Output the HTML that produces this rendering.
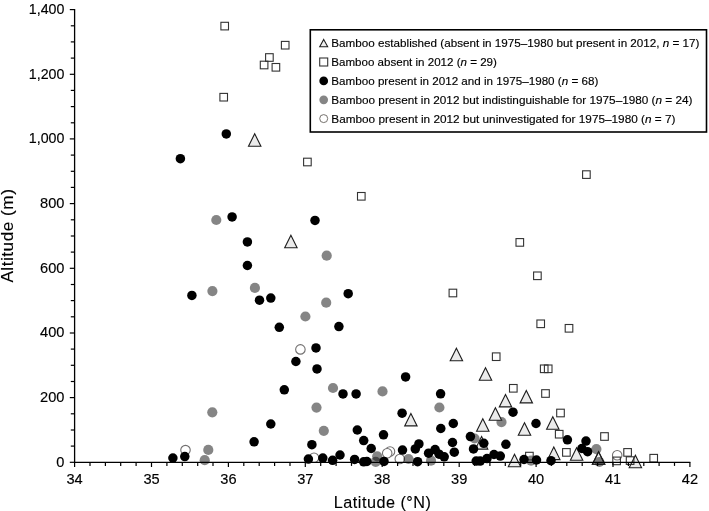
<!DOCTYPE html>
<html><head><meta charset="utf-8"><title>Bamboo altitude vs latitude</title>
<style>
html,body{margin:0;padding:0;background:#fff;}
body{width:709px;height:511px;overflow:hidden;}
svg{display:block;}
text{font-family:"Liberation Sans",sans-serif;fill:#000;stroke:#000;stroke-width:0.15px;}
.ax{stroke-width:0.12px;}
.tk{font-size:14.6px;}
.ax{font-size:16.2px;letter-spacing:0.5px;}
.lg{font-size:11.4px;}
</style></head><body>
<svg width="709" height="511" viewBox="0 0 709 511">
<rect width="709" height="511" fill="#fff"/>
<text class="tk" x="64.4" y="466.7" text-anchor="end" >0</text>
<text class="tk" x="64.4" y="402.0" text-anchor="end" >200</text>
<text class="tk" x="64.4" y="337.4" text-anchor="end" >400</text>
<text class="tk" x="64.4" y="272.7" text-anchor="end" >600</text>
<text class="tk" x="64.4" y="208.0" text-anchor="end" >800</text>
<text class="tk" x="64.4" y="143.3" text-anchor="end" textLength="35.6" lengthAdjust="spacingAndGlyphs">1,000</text>
<text class="tk" x="64.4" y="78.7" text-anchor="end" textLength="35.6" lengthAdjust="spacingAndGlyphs">1,200</text>
<text class="tk" x="64.4" y="14.0" text-anchor="end" textLength="35.6" lengthAdjust="spacingAndGlyphs">1,400</text>
<text class="tk" x="74.6" y="483.5" text-anchor="middle">34</text>
<text class="tk" x="151.5" y="483.5" text-anchor="middle">35</text>
<text class="tk" x="228.4" y="483.5" text-anchor="middle">36</text>
<text class="tk" x="305.3" y="483.5" text-anchor="middle">37</text>
<text class="tk" x="382.2" y="483.5" text-anchor="middle">38</text>
<text class="tk" x="459.2" y="483.5" text-anchor="middle">39</text>
<text class="tk" x="536.1" y="483.5" text-anchor="middle">40</text>
<text class="tk" x="613.0" y="483.5" text-anchor="middle">41</text>
<text class="tk" x="689.9" y="483.5" text-anchor="middle">42</text>
<text class="ax" x="333.8" y="507.7" textLength="97.6" lengthAdjust="spacingAndGlyphs">Latitude (°N)</text>
<text class="ax" transform="translate(13.2,282.6) rotate(-90)" textLength="94.0" lengthAdjust="spacingAndGlyphs">Altitude (m)</text>
<g>
<circle cx="185.5" cy="450.1" r="4.75" fill="#fff" stroke="#727070" stroke-width="1.1"/>
<circle cx="300.4" cy="349.4" r="4.75" fill="#fff" stroke="#727070" stroke-width="1.1"/>
<circle cx="314.0" cy="457.7" r="4.75" fill="#fff" stroke="#727070" stroke-width="1.1"/>
<circle cx="390.0" cy="451.5" r="4.75" fill="#fff" stroke="#727070" stroke-width="1.1"/>
<circle cx="387.2" cy="453.2" r="4.75" fill="#fff" stroke="#727070" stroke-width="1.1"/>
<circle cx="399.8" cy="459.0" r="4.75" fill="#fff" stroke="#727070" stroke-width="1.1"/>
<circle cx="617.2" cy="455.3" r="4.75" fill="#fff" stroke="#727070" stroke-width="1.1"/>
<circle cx="216.3" cy="220.0" r="5.1" fill="#000" fill-opacity="0.48"/>
<circle cx="326.7" cy="255.7" r="5.1" fill="#000" fill-opacity="0.48"/>
<circle cx="212.4" cy="291.1" r="5.1" fill="#000" fill-opacity="0.48"/>
<circle cx="254.9" cy="287.9" r="5.1" fill="#000" fill-opacity="0.48"/>
<circle cx="326.2" cy="302.7" r="5.1" fill="#000" fill-opacity="0.48"/>
<circle cx="305.4" cy="316.5" r="5.1" fill="#000" fill-opacity="0.48"/>
<circle cx="316.5" cy="407.6" r="5.1" fill="#000" fill-opacity="0.48"/>
<circle cx="212.3" cy="412.3" r="5.1" fill="#000" fill-opacity="0.48"/>
<circle cx="323.8" cy="430.8" r="5.1" fill="#000" fill-opacity="0.48"/>
<circle cx="208.3" cy="449.9" r="5.1" fill="#000" fill-opacity="0.48"/>
<circle cx="204.7" cy="460.2" r="5.1" fill="#000" fill-opacity="0.48"/>
<circle cx="333.0" cy="388.0" r="5.1" fill="#000" fill-opacity="0.48"/>
<circle cx="382.5" cy="391.4" r="5.1" fill="#000" fill-opacity="0.48"/>
<circle cx="439.4" cy="407.5" r="5.1" fill="#000" fill-opacity="0.48"/>
<circle cx="377.2" cy="456.3" r="5.1" fill="#000" fill-opacity="0.48"/>
<circle cx="375.7" cy="461.8" r="5.1" fill="#000" fill-opacity="0.48"/>
<circle cx="408.5" cy="459.0" r="5.1" fill="#000" fill-opacity="0.48"/>
<circle cx="431.0" cy="460.7" r="5.1" fill="#000" fill-opacity="0.48"/>
<circle cx="474.6" cy="438.5" r="5.1" fill="#000" fill-opacity="0.48"/>
<circle cx="501.5" cy="422.1" r="5.1" fill="#000" fill-opacity="0.48"/>
<circle cx="531.1" cy="460.7" r="5.1" fill="#000" fill-opacity="0.48"/>
<circle cx="596.4" cy="449.1" r="5.1" fill="#000" fill-opacity="0.48"/>
<polygon points="254.7,133.7 260.9,146.2 248.5,146.2" fill="#ebebeb" stroke="#1c1c1c" stroke-width="1.1" stroke-linejoin="miter"/>
<polygon points="290.9,235.2 297.1,247.7 284.7,247.7" fill="#ebebeb" stroke="#1c1c1c" stroke-width="1.1" stroke-linejoin="miter"/>
<polygon points="456.4,348.2 462.6,360.8 450.2,360.8" fill="#ebebeb" stroke="#1c1c1c" stroke-width="1.1" stroke-linejoin="miter"/>
<polygon points="485.5,367.8 491.7,380.2 479.3,380.2" fill="#ebebeb" stroke="#1c1c1c" stroke-width="1.1" stroke-linejoin="miter"/>
<polygon points="410.9,413.4 417.1,425.9 404.7,425.9" fill="#ebebeb" stroke="#1c1c1c" stroke-width="1.1" stroke-linejoin="miter"/>
<polygon points="505.5,394.4 511.7,406.9 499.3,406.9" fill="#ebebeb" stroke="#1c1c1c" stroke-width="1.1" stroke-linejoin="miter"/>
<polygon points="526.3,390.4 532.5,402.9 520.1,402.9" fill="#ebebeb" stroke="#1c1c1c" stroke-width="1.1" stroke-linejoin="miter"/>
<polygon points="495.4,407.8 501.6,420.2 489.2,420.2" fill="#ebebeb" stroke="#1c1c1c" stroke-width="1.1" stroke-linejoin="miter"/>
<polygon points="482.8,418.8 489.0,431.2 476.6,431.2" fill="#ebebeb" stroke="#1c1c1c" stroke-width="1.1" stroke-linejoin="miter"/>
<polygon points="524.5,422.8 530.7,435.2 518.3,435.2" fill="#ebebeb" stroke="#1c1c1c" stroke-width="1.1" stroke-linejoin="miter"/>
<polygon points="552.8,416.8 559.0,429.2 546.6,429.2" fill="#ebebeb" stroke="#1c1c1c" stroke-width="1.1" stroke-linejoin="miter"/>
<polygon points="481.6,436.6 487.8,449.1 475.4,449.1" fill="#ebebeb" stroke="#1c1c1c" stroke-width="1.1" stroke-linejoin="miter"/>
<polygon points="514.5,454.2 520.7,466.8 508.3,466.8" fill="#ebebeb" stroke="#1c1c1c" stroke-width="1.1" stroke-linejoin="miter"/>
<polygon points="553.8,447.1 560.0,459.6 547.6,459.6" fill="#ebebeb" stroke="#1c1c1c" stroke-width="1.1" stroke-linejoin="miter"/>
<polygon points="576.6,447.8 582.8,460.2 570.4,460.2" fill="#ebebeb" stroke="#1c1c1c" stroke-width="1.1" stroke-linejoin="miter"/>
<polygon points="598.6,451.8 604.8,464.2 592.4,464.2" fill="#ebebeb" stroke="#1c1c1c" stroke-width="1.1" stroke-linejoin="miter"/>
<polygon points="635.4,455.2 641.6,467.8 629.2,467.8" fill="#ebebeb" stroke="#1c1c1c" stroke-width="1.1" stroke-linejoin="miter"/>
<circle cx="599.4" cy="462.0" r="5.1" fill="#000" fill-opacity="0.48"/>
<polygon points="598.6,451.8 604.8,464.2 592.4,464.2" fill="none" stroke="#1c1c1c" stroke-width="1.1" stroke-linejoin="miter"/>
<rect x="220.9" y="22.3" width="7.6" height="7.6" fill="none" stroke="#333" stroke-width="1.1"/>
<rect x="281.4" y="41.4" width="7.6" height="7.6" fill="none" stroke="#333" stroke-width="1.1"/>
<rect x="265.6" y="53.7" width="7.6" height="7.6" fill="none" stroke="#333" stroke-width="1.1"/>
<rect x="260.3" y="61.2" width="7.6" height="7.6" fill="none" stroke="#333" stroke-width="1.1"/>
<rect x="272.1" y="63.5" width="7.6" height="7.6" fill="none" stroke="#333" stroke-width="1.1"/>
<rect x="219.9" y="93.4" width="7.6" height="7.6" fill="none" stroke="#333" stroke-width="1.1"/>
<rect x="303.6" y="158.2" width="7.6" height="7.6" fill="none" stroke="#333" stroke-width="1.1"/>
<rect x="357.5" y="192.5" width="7.6" height="7.6" fill="none" stroke="#333" stroke-width="1.1"/>
<rect x="582.6" y="170.8" width="7.6" height="7.6" fill="none" stroke="#333" stroke-width="1.1"/>
<rect x="516.0" y="238.6" width="7.6" height="7.6" fill="none" stroke="#333" stroke-width="1.1"/>
<rect x="533.6" y="272.0" width="7.6" height="7.6" fill="none" stroke="#333" stroke-width="1.1"/>
<rect x="449.1" y="289.2" width="7.6" height="7.6" fill="none" stroke="#333" stroke-width="1.1"/>
<rect x="536.9" y="320.0" width="7.6" height="7.6" fill="none" stroke="#333" stroke-width="1.1"/>
<rect x="565.2" y="324.5" width="7.6" height="7.6" fill="none" stroke="#333" stroke-width="1.1"/>
<rect x="492.4" y="352.9" width="7.6" height="7.6" fill="none" stroke="#333" stroke-width="1.1"/>
<rect x="540.4" y="365.0" width="7.6" height="7.6" fill="none" stroke="#333" stroke-width="1.1"/>
<rect x="544.4" y="365.0" width="7.6" height="7.6" fill="none" stroke="#333" stroke-width="1.1"/>
<rect x="509.5" y="384.5" width="7.6" height="7.6" fill="none" stroke="#333" stroke-width="1.1"/>
<rect x="541.7" y="389.7" width="7.6" height="7.6" fill="none" stroke="#333" stroke-width="1.1"/>
<rect x="556.7" y="409.2" width="7.6" height="7.6" fill="none" stroke="#333" stroke-width="1.1"/>
<rect x="555.4" y="430.4" width="7.6" height="7.6" fill="none" stroke="#333" stroke-width="1.1"/>
<rect x="600.7" y="432.7" width="7.6" height="7.6" fill="none" stroke="#333" stroke-width="1.1"/>
<rect x="525.6" y="452.3" width="7.6" height="7.6" fill="none" stroke="#333" stroke-width="1.1"/>
<rect x="562.6" y="448.6" width="7.6" height="7.6" fill="none" stroke="#333" stroke-width="1.1"/>
<rect x="612.8" y="457.1" width="7.6" height="7.6" fill="none" stroke="#333" stroke-width="1.1"/>
<rect x="623.8" y="448.6" width="7.6" height="7.6" fill="none" stroke="#333" stroke-width="1.1"/>
<rect x="626.3" y="456.8" width="7.6" height="7.6" fill="none" stroke="#333" stroke-width="1.1"/>
<rect x="649.9" y="454.4" width="7.6" height="7.6" fill="none" stroke="#333" stroke-width="1.1"/>
<circle cx="226.3" cy="133.9" r="4.75" fill="#000"/>
<circle cx="180.4" cy="158.7" r="4.75" fill="#000"/>
<circle cx="232.1" cy="216.9" r="4.75" fill="#000"/>
<circle cx="315.0" cy="220.4" r="4.75" fill="#000"/>
<circle cx="247.4" cy="241.9" r="4.75" fill="#000"/>
<circle cx="247.4" cy="265.5" r="4.75" fill="#000"/>
<circle cx="191.9" cy="295.4" r="4.75" fill="#000"/>
<circle cx="259.5" cy="300.2" r="4.75" fill="#000"/>
<circle cx="270.8" cy="298.1" r="4.75" fill="#000"/>
<circle cx="279.3" cy="327.3" r="4.75" fill="#000"/>
<circle cx="316.0" cy="347.9" r="4.75" fill="#000"/>
<circle cx="295.9" cy="361.5" r="4.75" fill="#000"/>
<circle cx="317.0" cy="368.9" r="4.75" fill="#000"/>
<circle cx="284.3" cy="389.8" r="4.75" fill="#000"/>
<circle cx="270.8" cy="424.0" r="4.75" fill="#000"/>
<circle cx="254.1" cy="441.8" r="4.75" fill="#000"/>
<circle cx="184.8" cy="456.6" r="4.75" fill="#000"/>
<circle cx="172.9" cy="458.0" r="4.75" fill="#000"/>
<circle cx="348.2" cy="293.7" r="4.75" fill="#000"/>
<circle cx="338.9" cy="326.6" r="4.75" fill="#000"/>
<circle cx="343.0" cy="393.9" r="4.75" fill="#000"/>
<circle cx="356.1" cy="393.9" r="4.75" fill="#000"/>
<circle cx="405.6" cy="376.9" r="4.75" fill="#000"/>
<circle cx="402.1" cy="413.2" r="4.75" fill="#000"/>
<circle cx="440.6" cy="393.8" r="4.75" fill="#000"/>
<circle cx="311.9" cy="444.7" r="4.75" fill="#000"/>
<circle cx="308.4" cy="459.1" r="4.75" fill="#000"/>
<circle cx="322.8" cy="458.1" r="4.75" fill="#000"/>
<circle cx="332.6" cy="460.3" r="4.75" fill="#000"/>
<circle cx="340.0" cy="455.0" r="4.75" fill="#000"/>
<circle cx="357.3" cy="430.0" r="4.75" fill="#000"/>
<circle cx="363.7" cy="440.6" r="4.75" fill="#000"/>
<circle cx="371.2" cy="448.5" r="4.75" fill="#000"/>
<circle cx="354.6" cy="459.4" r="4.75" fill="#000"/>
<circle cx="363.7" cy="461.8" r="4.75" fill="#000"/>
<circle cx="366.9" cy="461.5" r="4.75" fill="#000"/>
<circle cx="384.0" cy="461.4" r="4.75" fill="#000"/>
<circle cx="383.5" cy="434.8" r="4.75" fill="#000"/>
<circle cx="402.5" cy="450.1" r="4.75" fill="#000"/>
<circle cx="418.9" cy="443.9" r="4.75" fill="#000"/>
<circle cx="415.3" cy="448.9" r="4.75" fill="#000"/>
<circle cx="417.6" cy="461.7" r="4.75" fill="#000"/>
<circle cx="428.6" cy="453.2" r="4.75" fill="#000"/>
<circle cx="435.1" cy="449.6" r="4.75" fill="#000"/>
<circle cx="439.1" cy="454.2" r="4.75" fill="#000"/>
<circle cx="444.2" cy="456.8" r="4.75" fill="#000"/>
<circle cx="440.8" cy="428.5" r="4.75" fill="#000"/>
<circle cx="453.3" cy="423.5" r="4.75" fill="#000"/>
<circle cx="452.5" cy="442.5" r="4.75" fill="#000"/>
<circle cx="454.3" cy="452.2" r="4.75" fill="#000"/>
<circle cx="470.4" cy="436.6" r="4.75" fill="#000"/>
<circle cx="483.8" cy="443.3" r="4.75" fill="#000"/>
<circle cx="473.5" cy="448.9" r="4.75" fill="#000"/>
<circle cx="505.9" cy="444.3" r="4.75" fill="#000"/>
<circle cx="494.0" cy="454.5" r="4.75" fill="#000"/>
<circle cx="500.3" cy="456.1" r="4.75" fill="#000"/>
<circle cx="487.0" cy="458.6" r="4.75" fill="#000"/>
<circle cx="480.2" cy="461.1" r="4.75" fill="#000"/>
<circle cx="476.2" cy="461.1" r="4.75" fill="#000"/>
<circle cx="513.0" cy="412.2" r="4.75" fill="#000"/>
<circle cx="536.0" cy="423.5" r="4.75" fill="#000"/>
<circle cx="524.0" cy="459.5" r="4.75" fill="#000"/>
<circle cx="536.5" cy="460.0" r="4.75" fill="#000"/>
<circle cx="551.0" cy="460.7" r="4.75" fill="#000"/>
<circle cx="567.4" cy="439.8" r="4.75" fill="#000"/>
<circle cx="586.0" cy="441.1" r="4.75" fill="#000"/>
<circle cx="581.9" cy="448.5" r="4.75" fill="#000"/>
<circle cx="587.6" cy="451.7" r="4.75" fill="#000"/>
</g>
<g stroke="#000" stroke-width="1.2" fill="none">
<line x1="74.6" y1="9.1" x2="74.6" y2="463.0" stroke-width="1.3"/>
<line x1="73.89999999999999" y1="462.3" x2="690.4" y2="462.3" stroke-width="1.3"/>
<line x1="69.8" y1="462.3" x2="74.6" y2="462.3"/>
<line x1="70.8" y1="446.1" x2="74.6" y2="446.1"/>
<line x1="70.8" y1="430.0" x2="74.6" y2="430.0"/>
<line x1="70.8" y1="413.8" x2="74.6" y2="413.8"/>
<line x1="69.8" y1="397.6" x2="74.6" y2="397.6"/>
<line x1="70.8" y1="381.5" x2="74.6" y2="381.5"/>
<line x1="70.8" y1="365.3" x2="74.6" y2="365.3"/>
<line x1="70.8" y1="349.1" x2="74.6" y2="349.1"/>
<line x1="69.8" y1="333.0" x2="74.6" y2="333.0"/>
<line x1="70.8" y1="316.8" x2="74.6" y2="316.8"/>
<line x1="70.8" y1="300.6" x2="74.6" y2="300.6"/>
<line x1="70.8" y1="284.5" x2="74.6" y2="284.5"/>
<line x1="69.8" y1="268.3" x2="74.6" y2="268.3"/>
<line x1="70.8" y1="252.1" x2="74.6" y2="252.1"/>
<line x1="70.8" y1="236.0" x2="74.6" y2="236.0"/>
<line x1="70.8" y1="219.8" x2="74.6" y2="219.8"/>
<line x1="69.8" y1="203.6" x2="74.6" y2="203.6"/>
<line x1="70.8" y1="187.4" x2="74.6" y2="187.4"/>
<line x1="70.8" y1="171.3" x2="74.6" y2="171.3"/>
<line x1="70.8" y1="155.1" x2="74.6" y2="155.1"/>
<line x1="69.8" y1="138.9" x2="74.6" y2="138.9"/>
<line x1="70.8" y1="122.8" x2="74.6" y2="122.8"/>
<line x1="70.8" y1="106.6" x2="74.6" y2="106.6"/>
<line x1="70.8" y1="90.4" x2="74.6" y2="90.4"/>
<line x1="69.8" y1="74.3" x2="74.6" y2="74.3"/>
<line x1="70.8" y1="58.1" x2="74.6" y2="58.1"/>
<line x1="70.8" y1="41.9" x2="74.6" y2="41.9"/>
<line x1="70.8" y1="25.8" x2="74.6" y2="25.8"/>
<line x1="69.8" y1="9.6" x2="74.6" y2="9.6"/>
<line x1="74.6" y1="462.3" x2="74.6" y2="467.0"/>
<line x1="90.0" y1="462.3" x2="90.0" y2="465.9"/>
<line x1="105.4" y1="462.3" x2="105.4" y2="465.9"/>
<line x1="120.7" y1="462.3" x2="120.7" y2="465.9"/>
<line x1="136.1" y1="462.3" x2="136.1" y2="465.9"/>
<line x1="151.5" y1="462.3" x2="151.5" y2="467.0"/>
<line x1="166.9" y1="462.3" x2="166.9" y2="465.9"/>
<line x1="182.3" y1="462.3" x2="182.3" y2="465.9"/>
<line x1="197.7" y1="462.3" x2="197.7" y2="465.9"/>
<line x1="213.0" y1="462.3" x2="213.0" y2="465.9"/>
<line x1="228.4" y1="462.3" x2="228.4" y2="467.0"/>
<line x1="243.8" y1="462.3" x2="243.8" y2="465.9"/>
<line x1="259.2" y1="462.3" x2="259.2" y2="465.9"/>
<line x1="274.6" y1="462.3" x2="274.6" y2="465.9"/>
<line x1="290.0" y1="462.3" x2="290.0" y2="465.9"/>
<line x1="305.3" y1="462.3" x2="305.3" y2="467.0"/>
<line x1="320.7" y1="462.3" x2="320.7" y2="465.9"/>
<line x1="336.1" y1="462.3" x2="336.1" y2="465.9"/>
<line x1="351.5" y1="462.3" x2="351.5" y2="465.9"/>
<line x1="366.9" y1="462.3" x2="366.9" y2="465.9"/>
<line x1="382.2" y1="462.3" x2="382.2" y2="467.0"/>
<line x1="397.6" y1="462.3" x2="397.6" y2="465.9"/>
<line x1="413.0" y1="462.3" x2="413.0" y2="465.9"/>
<line x1="428.4" y1="462.3" x2="428.4" y2="465.9"/>
<line x1="443.8" y1="462.3" x2="443.8" y2="465.9"/>
<line x1="459.2" y1="462.3" x2="459.2" y2="467.0"/>
<line x1="474.5" y1="462.3" x2="474.5" y2="465.9"/>
<line x1="489.9" y1="462.3" x2="489.9" y2="465.9"/>
<line x1="505.3" y1="462.3" x2="505.3" y2="465.9"/>
<line x1="520.7" y1="462.3" x2="520.7" y2="465.9"/>
<line x1="536.1" y1="462.3" x2="536.1" y2="467.0"/>
<line x1="551.5" y1="462.3" x2="551.5" y2="465.9"/>
<line x1="566.8" y1="462.3" x2="566.8" y2="465.9"/>
<line x1="582.2" y1="462.3" x2="582.2" y2="465.9"/>
<line x1="597.6" y1="462.3" x2="597.6" y2="465.9"/>
<line x1="613.0" y1="462.3" x2="613.0" y2="467.0"/>
<line x1="628.4" y1="462.3" x2="628.4" y2="465.9"/>
<line x1="643.8" y1="462.3" x2="643.8" y2="465.9"/>
<line x1="659.1" y1="462.3" x2="659.1" y2="465.9"/>
<line x1="674.5" y1="462.3" x2="674.5" y2="465.9"/>
<line x1="689.9" y1="462.3" x2="689.9" y2="467.0"/>
</g>
<rect x="310.3" y="29.8" width="396.2" height="102.2" fill="#fff" stroke="#000" stroke-width="1.6"/>
<polygon points="323.7,39.4 327.7,46.8 319.7,46.8" fill="#eee" stroke="#1c1c1c" stroke-width="1.05"/>
<rect x="319.7" y="58.0" width="8" height="8" fill="#fff" stroke="#333" stroke-width="1.1"/>
<circle cx="323.7" cy="80.9" r="4.35" fill="#000"/>
<circle cx="323.7" cy="99.8" r="4.35" fill="#858585"/>
<circle cx="323.7" cy="118.6" r="4.0" fill="#fff" stroke="#66625e" stroke-width="0.9"/>
<text class="lg" x="331.3" y="47.00" textLength="368.2" lengthAdjust="spacingAndGlyphs">Bamboo established (absent in 1975–1980 but present in 2012, <tspan font-style="italic">n</tspan> = 17)</text>
<text class="lg" x="331.3" y="65.90" textLength="165.6" lengthAdjust="spacingAndGlyphs">Bamboo absent in 2012 (<tspan font-style="italic">n</tspan> = 29)</text>
<text class="lg" x="331.3" y="84.85" textLength="267.0" lengthAdjust="spacingAndGlyphs">Bamboo present in 2012 and in 1975–1980 (<tspan font-style="italic">n</tspan> = 68)</text>
<text class="lg" x="331.3" y="103.80" textLength="361.2" lengthAdjust="spacingAndGlyphs">Bamboo present in 2012 but indistinguishable for 1975–1980 (<tspan font-style="italic">n</tspan> = 24)</text>
<text class="lg" x="331.3" y="122.70" textLength="344.1" lengthAdjust="spacingAndGlyphs">Bamboo present in 2012 but uninvestigated for 1975–1980 (<tspan font-style="italic">n</tspan> = 7)</text>
</svg></body></html>
